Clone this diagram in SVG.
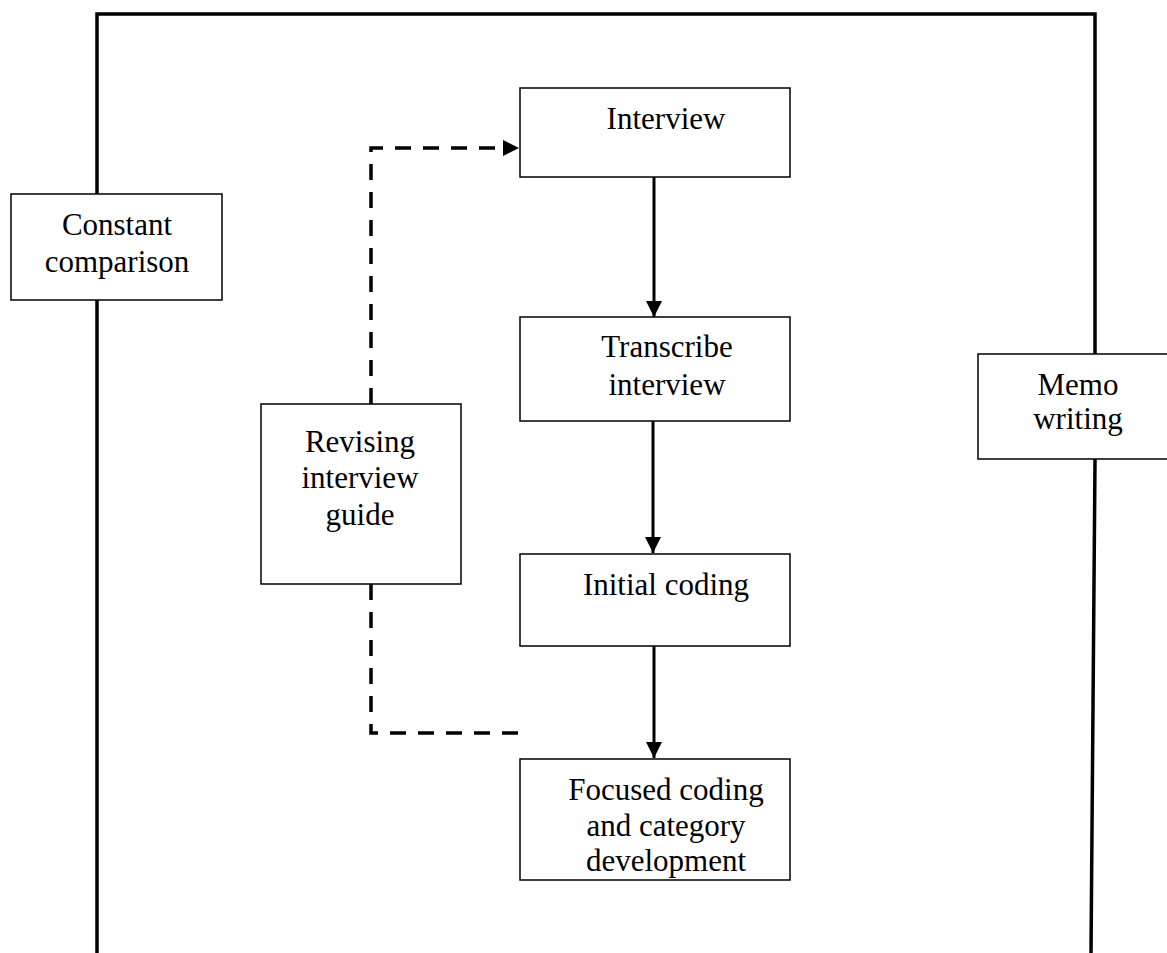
<svg xmlns="http://www.w3.org/2000/svg" width="1167" height="953" viewBox="0 0 1167 953">
<style>
.box{fill:#fff;stroke:#000;stroke-width:1.5}
.t{font-family:"Liberation Serif","Times New Roman",serif;font-size:31px;fill:#000;text-anchor:middle}
.frame{fill:none;stroke:#000;stroke-width:3.5}
.solid{fill:none;stroke:#000;stroke-width:3}
.dash{fill:none;stroke:#000;stroke-width:3.5;stroke-dasharray:16 12}
</style>
<defs>
<marker id="ah" markerUnits="userSpaceOnUse" markerWidth="16" markerHeight="16" refX="16" refY="8" orient="auto">
<path d="M0,0 L16,8 L0,16 Z" fill="#000"/>
</marker>
</defs>
<g id="connectors">
<path class="frame" d="M97,953 L97,14 L1095,14 L1095,400"/>
<path class="frame" d="M1095,400 L1095,460 L1091,953"/>
<path class="solid" d="M654,177 L654,317" marker-end="url(#ah)"/>
<path class="solid" d="M653,421 L653,553" marker-end="url(#ah)"/>
<path class="solid" d="M654,646 L654,758" marker-end="url(#ah)"/>
<path class="dash" d="M371,404 L371,148 L503,148"/>
<path d="M503,140 L519,148 L503,156 Z" fill="#000"/>
<path class="dash" d="M371,584 L371,733 L519,733" style="stroke-dasharray:16 12"/>
</g>
<g id="constant">
<rect class="box" x="11" y="194" width="211" height="106"/>
<text class="t" x="117" y="235">Constant</text>
<text class="t" x="117" y="272">comparison</text>
</g>
<g id="memo">
<rect class="box" x="978" y="354" width="200" height="105"/>
<text class="t" x="1078" y="395">Memo</text>
<text class="t" x="1078" y="429">writing</text>
</g>
<g id="interview">
<rect class="box" x="520" y="88" width="270" height="89"/>
<text class="t" x="666" y="129">Interview</text>
</g>
<g id="transcribe">
<rect class="box" x="520" y="317" width="270" height="104"/>
<text class="t" x="667" y="357">Transcribe</text>
<text class="t" x="667" y="395">interview</text>
</g>
<g id="initial">
<rect class="box" x="520" y="554" width="270" height="92"/>
<text class="t" x="666" y="595">Initial coding</text>
</g>
<g id="focused">
<rect class="box" x="520" y="759" width="270" height="121"/>
<text class="t" x="666" y="800">Focused coding</text>
<text class="t" x="666" y="836">and category</text>
<text class="t" x="666" y="871">development</text>
</g>
<g id="revising">
<rect class="box" x="261" y="404" width="200" height="180"/>
<text class="t" x="360" y="452">Revising</text>
<text class="t" x="360" y="488">interview</text>
<text class="t" x="360" y="525">guide</text>
</g>
</svg>
